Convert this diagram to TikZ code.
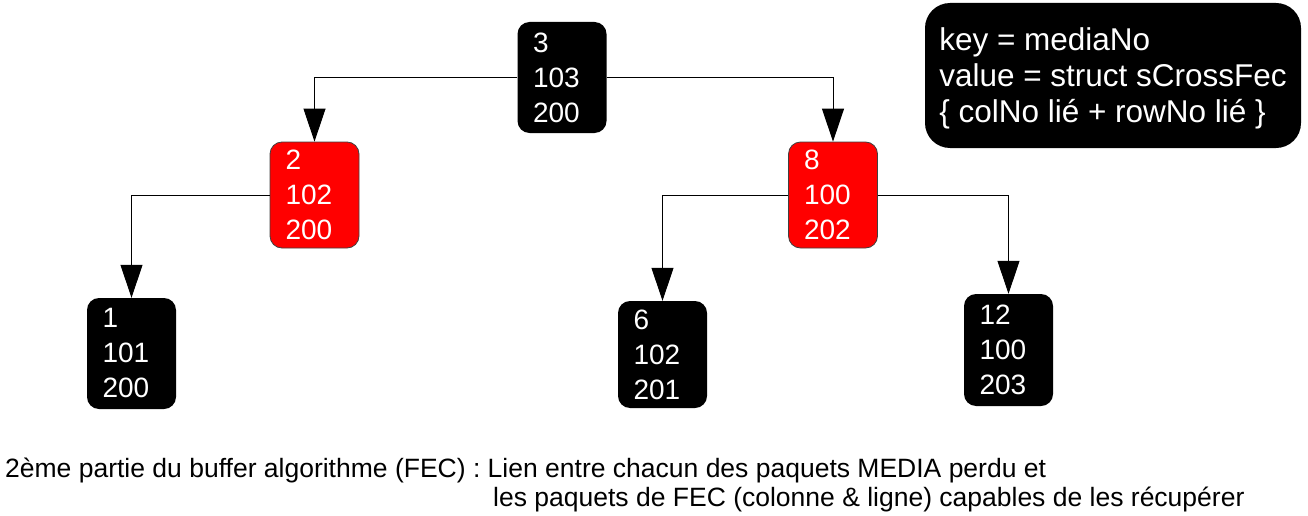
\documentclass[tikz,border=0pt]{standalone}
\usepackage{fontspec}
\setmainfont{Liberation Sans}
\usetikzlibrary{arrows.meta}
\tikzset{
  treebox/.style={rounded corners=12pt, fill=black, text=white, inner sep=0pt,
    minimum width=89pt, text width=58pt, align=left,
    font=\fontsize{28}{35}\selectfont},
  lostbox/.style={treebox, fill=red, draw=black!75, line width=0.8pt},
  legendbox/.style={rounded corners=25pt, fill=black, text=white, inner sep=0pt,
    minimum width=376pt, minimum height=145pt, align=left, text depth=0pt,
    font=\fontsize{31.5}{36}\selectfont},
  captext/.style={inner sep=0pt, anchor=base west, font=\fontsize{26.5}{30}\selectfont},
  conn/.style={line width=1pt, -{Triangle[width=22pt,length=33pt]}}
}
\begin{document}
\begin{tikzpicture}[x=1pt,y=-1pt]
\useasboundingbox (0,0) rectangle (1308,516);
\node[treebox, minimum height=111pt] (n3) at (562,77.5) {3\\103\\200};
\node[lostbox, minimum height=106pt] (n2) at (314.5,195) {2\\102\\200};
\node[lostbox, minimum height=106pt] (n8) at (833,195) {8\\100\\202};
\node[treebox, minimum height=111pt] (n1) at (131.5,353.5) {1\\101\\200};
\node[treebox, minimum height=107pt] (n6) at (662.5,354.5) {6\\102\\201};
\node[treebox, minimum height=112pt] (n12) at (1008.5,350) {12\\100\\203};
\node[legendbox] (key) at (1113,75.5) {key = mediaNo\\value = struct sCrossFec\\\{ colNo lié + rowNo lié \}};
\draw[conn] (n3.west) -| (n2.north);
\draw[conn] (n3.east) -| (n8.north);
\draw[conn] (n2.west) -| (n1.north);
\draw[conn] (n8.west) -| (n6.north);
\draw[conn] (n8.east) -| (n12.north);
\node[captext] (c1) at (5,477) {2ème partie du buffer algorithme (FEC) : Lien entre chacun des paquets MEDIA perdu et};
\node[captext] (c2) at (493,506) {les paquets de FEC (colonne \& ligne) capables de les récupérer};
\end{tikzpicture}
\end{document}
